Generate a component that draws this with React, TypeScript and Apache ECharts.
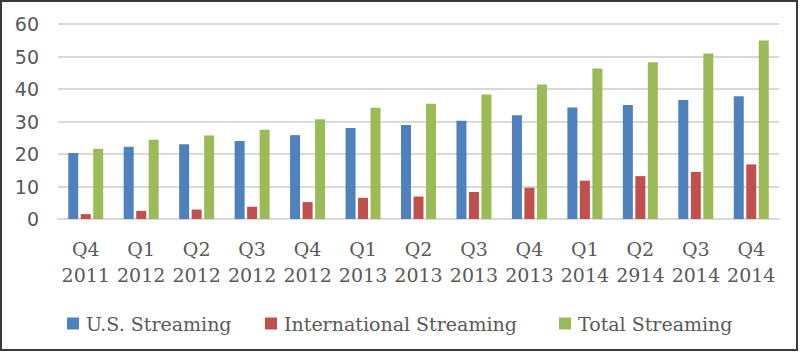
import React, { useEffect, useRef } from "react";
import * as echarts from "echarts";

const categories = [
  "Q4\n2011", "Q1\n2012", "Q2\n2012", "Q3\n2012", "Q4\n2012", "Q1\n2013", "Q2\n2013",
  "Q3\n2013", "Q4\n2013", "Q1\n2014", "Q2\n2914", "Q3\n2014", "Q4\n2014",
];
const usStreaming = [20.3, 22.2, 23.0, 24.0, 25.8, 28.0, 28.9, 30.2, 31.9, 34.3, 35.1, 36.6, 37.8];
const intlStreaming = [1.5, 2.5, 2.9, 3.8, 5.2, 6.5, 6.9, 8.3, 9.6, 11.8, 13.2, 14.5, 16.8];
const totalStreaming = [21.6, 24.4, 25.7, 27.5, 30.7, 34.2, 35.5, 38.3, 41.4, 46.3, 48.2, 50.9, 54.9];
const seriesNames = ["U.S. Streaming", "International Streaming", "Total Streaming"];
const colors = ["#4F81BD", "#C0504D", "#9BBB59"];
const legendLefts = [67, 265, 559];

export default function App() {
  const ref = useRef<HTMLDivElement>(null);
  useEffect(() => {
    if (!ref.current) return;
    const chart = echarts.init(ref.current, null, { renderer: "svg" });
    const serif = "DejaVu Serif";
    const datasets = [usStreaming, intlStreaming, totalStreaming];
    chart.setOption({
      animation: false,
      backgroundColor: "#ffffff",
      color: colors,
      grid: { left: 58, right: 21, top: 24, bottom: 133, containLabel: false },
      legend: seriesNames.map((n, i) => ({
        left: legendLefts[i],
        top: 314,
        padding: 0,
        itemWidth: 12,
        itemHeight: 12,
        icon: "rect",
        textStyle: { fontFamily: serif, fontSize: 19, color: "#595959", padding: [0, 0, 0, 2] },
        data: [n],
      })),
      xAxis: {
        type: "category",
        data: categories,
        axisLine: { show: true, lineStyle: { color: "#d9d9d9", width: 2 } },
        axisTick: { show: false },
        axisLabel: {
          fontFamily: serif,
          fontSize: 19,
          color: "#595959",
          lineHeight: 26,
          margin: 17,
          interval: 0,
        },
      },
      yAxis: {
        type: "value",
        min: 0,
        max: 60,
        interval: 10,
        axisLine: { show: false },
        axisTick: { show: false },
        splitLine: { lineStyle: { color: "#d9d9d9", width: 2 } },
        axisLabel: { fontFamily: "DejaVu Sans", fontSize: 19, color: "#595959", margin: 19 },
      },
      series: datasets.map((d, i) => ({
        name: seriesNames[i],
        type: "bar",
        data: d,
        barWidth: 10,
        barGap: "25%",
        itemStyle: { color: colors[i] },
      })),
      graphic: [
        {
          type: "rect",
          shape: { x: 1, y: 1, width: 796, height: 349 },
          style: { fill: "none", stroke: "#3a3a3a", lineWidth: 2 },
          silent: true,
          z: 100,
        },
      ],
    });
    return () => chart.dispose();
  }, []);
  return (
    <div
      ref={ref}
      style={{ position: "absolute", left: 0, top: 0, width: 800, height: 352 }}
    />
  );
}
